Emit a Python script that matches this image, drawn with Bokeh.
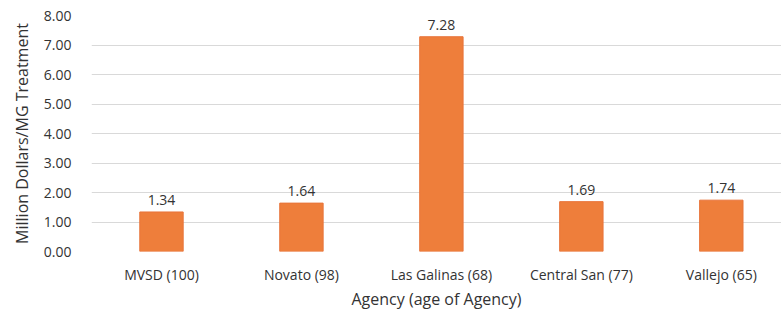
from bokeh.plotting import figure
from bokeh.models import ColumnDataSource, Range1d, FixedTicker, LabelSet
from bokeh.core.properties import value
from bokeh.embed import file_html
from bokeh.resources import INLINE

categories = ["MVSD (100)", "Novato (98)", "Las Galinas (68)", "Central San (77)", "Vallejo (65)"]
values = [1.34, 1.64, 7.28, 1.69, 1.74]
y_ticks = [0, 1, 2, 3, 4, 5, 6, 7, 8]

xs = list(range(len(categories)))
src = ColumnDataSource(dict(x=xs, top=values, lab=[f"{v:.2f}" for v in values]))

FONT = "Open Sans"
TXT = "#333333"

p = figure(width=781, height=312, output_backend="svg", toolbar_location=None,
           x_range=Range1d(-0.5, 4.43), y_range=Range1d(0, 8),
           min_border_left=91, min_border_right=0, min_border_top=15, min_border_bottom=60)
p.outline_line_color = None

p.vbar(x="x", top="top", width=0.31, source=src, color="#EE7E3B", line_color="#E8743A")

labels = LabelSet(x="x", y="top", text="lab", source=src, text_align="center",
                  text_baseline="bottom", y_offset=7, text_font=value(FONT),
                  text_font_size=value("14px"), text_color=value(TXT))
p.add_layout(labels)

p.xaxis.ticker = FixedTicker(ticks=xs)
p.xaxis.major_label_overrides = {i: c for i, c in enumerate(categories)}
p.yaxis.ticker = FixedTicker(ticks=y_ticks)
p.yaxis.major_label_overrides = {t: f"{t:.2f}" for t in y_ticks}

for ax in (p.xaxis[0], p.yaxis[0]):
    ax.axis_line_color = None
    ax.major_tick_line_color = None
    ax.minor_tick_line_color = None
    ax.major_label_text_font = FONT
    ax.major_label_text_font_size = "14px"
    ax.major_label_text_color = TXT
    ax.axis_label_text_font = FONT
    ax.axis_label_text_font_style = "normal"
    ax.axis_label_text_color = TXT
    ax.axis_label_text_font_size = "16px"

p.xaxis.axis_label = "Agency (age of Agency)"
p.xaxis.major_label_standoff = 7
p.xaxis.axis_label_standoff = 1
p.yaxis.axis_label = "Million Dollars/MG Treatment"
p.yaxis.major_label_standoff = 14
p.yaxis.axis_label_standoff = 8

p.xgrid.grid_line_color = None
p.ygrid.grid_line_color = "#D9D9D9"
p.ygrid.grid_line_width = 1

open("out.html", "w").write(file_html(p, INLINE))
